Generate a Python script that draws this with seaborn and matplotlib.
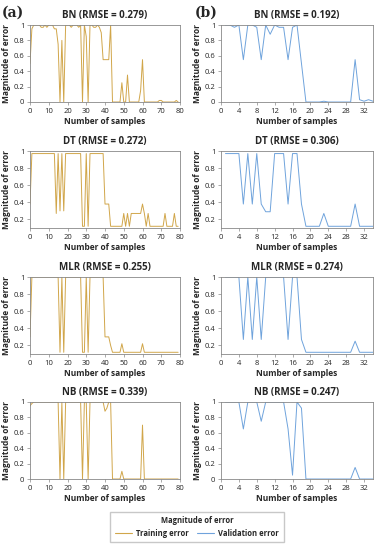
import numpy as np
import pandas as pd
import seaborn as sns
import matplotlib.pyplot as plt

#%% Data
models = ['BN', 'DT', 'MLR', 'NB']
rmse_train = ['0.279', '0.272', '0.255', '0.339']
rmse_valid = ['0.192', '0.306', '0.274', '0.247']

# training error, samples 0..79
bn_train = [0.5, 0.95, 1, 1, 1, 1, 0.97, 0.97, 1, 0.97, 1, 1, 1, 0.95, 0.95, 0.75,
            0, 0.8, 0, 1, 1, 1, 0.97, 1, 1, 1, 0.97, 1, 0, 1, 0.85, 0, 1, 1, 0.97,
            0.97, 1, 0.97, 0.9, 0.55, 0.55, 0.55, 0.55, 1, 0, 0, 0, 0, 0, 0.25, 0,
            0, 0.35, 0, 0, 0, 0, 0, 0, 0.15, 0.55, 0, 0, 0, 0, 0, 0, 0, 0, 0.02,
            0.02, 0, 0, 0, 0, 0, 0, 0, 0.02, 0]
dt_train = [0.38, 0.97, 0.97, 0.97, 0.97, 0.97, 0.97, 0.97, 0.97, 0.97, 0.97, 0.97,
            0.97, 0.97, 0.27, 0.97, 0.3, 0.97, 0.3, 0.97, 0.97, 0.97, 0.97, 0.97,
            0.97, 0.97, 0.97, 0.97, 0.12, 0.12, 0.97, 0.12, 0.97, 0.97, 0.97, 0.97,
            0.97, 0.97, 0.97, 0.97, 0.38, 0.38, 0.38, 0.12, 0.12, 0.12, 0.12, 0.12,
            0.12, 0.12, 0.27, 0.12, 0.27, 0.12, 0.27, 0.27, 0.27, 0.27, 0.27, 0.27,
            0.38, 0.27, 0.12, 0.27, 0.12, 0.12, 0.12, 0.12, 0.12, 0.12, 0.12, 0.12,
            0.27, 0.12, 0.12, 0.12, 0.12, 0.27, 0.12, 0.12]
mlr_train = [0.3, 1, 1, 1, 1, 1, 1, 1, 1, 1, 1, 1, 1, 1, 1, 1, 0.12, 1, 0.12, 1,
             1, 1, 1, 1, 1, 1, 1, 1, 0.12, 0.12, 1, 0.12, 1, 1, 1, 1, 1, 1, 1, 1,
             0.3, 0.3, 0.3, 0.2, 0.12, 0.12, 0.12, 0.12, 0.12, 0.22, 0.12, 0.12,
             0.12, 0.12, 0.12, 0.12, 0.12, 0.12, 0.12, 0.12, 0.22, 0.12, 0.12, 0.12,
             0.12, 0.12, 0.12, 0.12, 0.12, 0.12, 0.12, 0.12, 0.12, 0.12, 0.12, 0.12,
             0.12, 0.12, 0.12, 0.12]
nb_train = [0.95, 0.98, 1, 1, 1, 1, 1, 1, 1, 1, 1, 1, 1, 1, 1, 1, 0, 1, 0, 1, 1, 1,
            1, 1, 1, 1, 1, 1, 0, 1, 1, 0, 1, 1, 1, 1, 1, 1, 1, 1, 0.88, 0.92, 1, 1,
            0, 0, 0, 0, 0, 0.1, 0, 0, 0, 0, 0, 0, 0, 0, 0, 0, 0.7, 0, 0, 0, 0, 0,
            0, 0, 0, 0, 0, 0, 0, 0, 0, 0, 0, 0, 0, 0]

# validation error, samples 1..34
bn_valid = [1, 1, 0.97, 1, 0.55, 1, 1, 0.97, 0.55, 1, 0.88, 1, 0.97, 0.97, 0.55,
            0.97, 1, 0.5, 0, 0, 0, 0, 0.01, 0, 0, 0, 0, 0, 0, 0.55, 0.03, 0.01,
            0.03, 0.01]
dt_valid = [0.97, 0.97, 0.97, 0.97, 0.38, 0.97, 0.38, 0.97, 0.38, 0.29, 0.29, 0.97,
            0.97, 0.97, 0.38, 0.97, 0.97, 0.38, 0.12, 0.12, 0.12, 0.12, 0.27, 0.12,
            0.12, 0.12, 0.12, 0.12, 0.12, 0.38, 0.12, 0.12, 0.12, 0.12]
mlr_valid = [1, 1, 1, 1, 0.27, 1, 0.27, 1, 0.27, 1, 1, 1, 1, 1, 0.27, 1, 1, 0.27,
             0.12, 0.12, 0.12, 0.12, 0.12, 0.12, 0.12, 0.12, 0.12, 0.12, 0.12, 0.25,
             0.12, 0.12, 0.12, 0.12]
nb_valid = [1, 1, 1, 1, 0.65, 1, 1, 1, 0.75, 1, 1, 1, 1, 1, 0.65, 0.05, 1, 0.92,
            0, 0, 0, 0, 0, 0, 0, 0, 0, 0, 0, 0.15, 0, 0, 0, 0]

train_series = [bn_train, dt_train, mlr_train, nb_train]
valid_series = [bn_valid, dt_valid, mlr_valid, nb_valid]
y_bottom = [0, 0.1, 0.1, 0]

#%% Plotting
sns.set_style('ticks')
plt.rcParams['font.family'] = ['Open Sans', 'DejaVu Sans']
train_col = '#d1a64a'
valid_col = '#6fa3dc'

fig = plt.figure(figsize=(3.79, 5.5), dpi=100)
tops = [25, 151, 277, 402]
h = 77
for i, m in enumerate(models):
    bottom = 1 - (tops[i] + h) / 550
    ax_l = fig.add_axes([30 / 379, bottom, 150 / 379, h / 550])
    ax_r = fig.add_axes([221 / 379, bottom, 152 / 379, h / 550])

    df_t = pd.DataFrame({'sample': np.arange(len(train_series[i])), 'err': train_series[i]})
    df_v = pd.DataFrame({'sample': np.arange(1, len(valid_series[i]) + 1), 'err': valid_series[i]})
    sns.lineplot(data=df_t, x='sample', y='err', ax=ax_l, color=train_col, linewidth=0.7)
    sns.lineplot(data=df_v, x='sample', y='err', ax=ax_r, color=valid_col, linewidth=0.7)

    for ax, rm, xmax, step in [(ax_l, rmse_train[i], 80, 10), (ax_r, rmse_valid[i], 34, 4)]:
        ax.set_xlim(0, xmax)
        ax.set_xticks(range(0, xmax + 1, step))
        ax.set_ylim(y_bottom[i], 1)
        if y_bottom[i] == 0:
            ax.set_yticks([0, 0.2, 0.4, 0.6, 0.8, 1])
            ax.set_yticklabels(['0', '0.2', '0.4', '0.6', '0.8', '1'])
        else:
            ax.set_yticks([0.2, 0.4, 0.6, 0.8, 1])
            ax.set_yticklabels(['0.2', '0.4', '0.6', '0.8', '1'])
        ax.set_title(f'{m} (RMSE = {rm})', fontsize=7, fontweight='bold', pad=5)
        ax.set_xlabel('Number of samples', fontsize=6, fontweight='bold', labelpad=2)
        ax.set_ylabel('Magnitude of error', fontsize=6, fontweight='bold', labelpad=2)
        ax.tick_params(labelsize=5.5, length=2, width=0.5, pad=2, color='#888888')
        for s in ax.spines.values():
            s.set_linewidth(0.6)
            s.set_color('#888888')
            s.set_visible(True)

fig.text(2 / 379, 1 - 13 / 550, '(a)', fontsize=10, fontweight='bold', family='DejaVu Serif', va='center')
fig.text(195 / 379, 1 - 13 / 550, '(b)', fontsize=10, fontweight='bold', family='DejaVu Serif', va='center')

handles = [plt.Line2D([], [], color=train_col, lw=0.8), plt.Line2D([], [], color=valid_col, lw=0.8)]
leg = fig.legend(handles, ['Training error', 'Validation error'], loc='center',
                 bbox_to_anchor=(197 / 379, 1 - 527 / 550), ncol=2, fontsize=5.5,
                 title='Magnitude of error', title_fontsize=5.5, frameon=True,
                 fancybox=False, edgecolor='#bbbbbb', handlelength=2.2, columnspacing=1.0,
                 handletextpad=0.6, borderpad=0.6)
leg.get_title().set_fontweight('bold')
for t in leg.get_texts():
    t.set_fontweight('bold')

plt.savefig('out.png', dpi=100)
